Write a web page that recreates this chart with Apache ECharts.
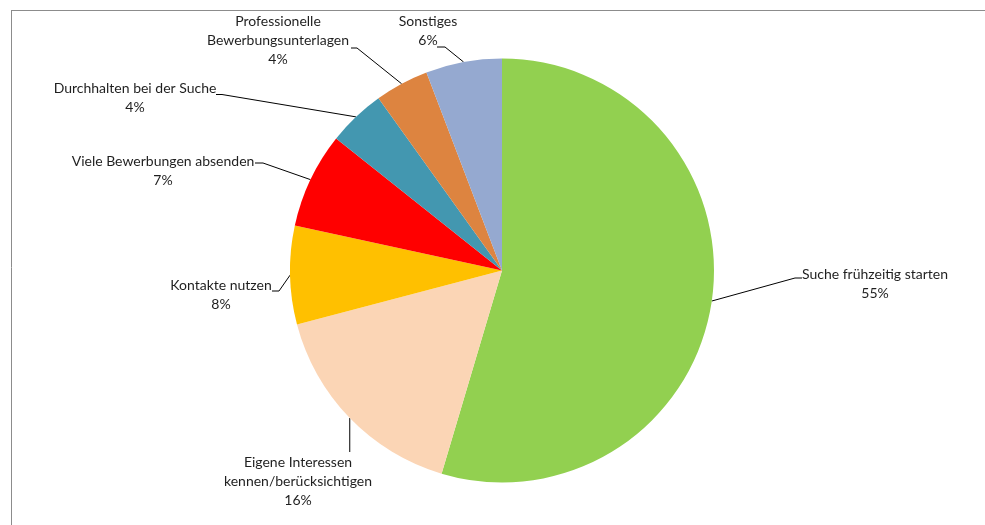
<!DOCTYPE html>
<html>
<head>
<meta charset="utf-8">
<script src="https://cdn.jsdelivr.net/npm/echarts@6/dist/echarts.min.js"></script>
<style>
html, body { margin: 0; padding: 0; background: #fff; }
#main { width: 985px; height: 525px; }
</style>
</head>
<body>
<div id="main"></div>
<script>
// Kategorien und Anteile (im Uhrzeigersinn ab 12 Uhr)
var categories = [
    'Suche frühzeitig starten',
    'Eigene Interessen\nkennen/berücksichtigen',
    'Kontakte nutzen',
    'Viele Bewerbungen absenden',
    'Durchhalten bei der Suche',
    'Professionelle\nBewerbungsunterlagen',
    'Sonstiges'
];
var values = [54.6, 16.3, 7.5, 7.3, 4.4, 4.1, 5.8];
var colors = ['#92D050', '#FBD5B5', '#FFC000', '#FF0000', '#4397B0', '#DD8440', '#95A9D0'];

// Position der Beschriftungen (Mitte des Textblocks) und Knick/Ende der Führungslinie
var labelPos = [[875, 284], [298, 481], [221, 295], [163, 170.5], [135, 98], [278, 40], [428, 31]];
var guideBend = [[795, 278], [350, 452], [279, 291], [263, 163], [222, 94.5], [357, 48], [445, 47]];
var guideEnd = [[802, 278], [350, 452], [272, 291], [255, 163], [216, 94.5], [351, 48], [437, 47]];

var pieData = categories.map(function (name, i) {
    return { name: name, value: values[i], itemStyle: { color: colors[i] } };
});

var myChart = echarts.init(document.getElementById('main'), null, { renderer: 'canvas' });
myChart.setOption({
    animation: false,
    graphic: [
        { type: 'line', shape: { x1: 11, y1: 10.5, x2: 985, y2: 10.5 }, style: { stroke: '#8c8c8c', lineWidth: 1 } },
        { type: 'line', shape: { x1: 11.5, y1: 10, x2: 11.5, y2: 525 }, style: { stroke: '#8c8c8c', lineWidth: 1 } }
    ],
    series: [
        {
            type: 'pie',
            center: [502, 270.5],
            radius: 212,
            startAngle: 90,
            clockwise: true,
            percentPrecision: 0,
            avoidLabelOverlap: false,
            itemStyle: { borderWidth: 0 },
            emphasis: { disabled: true },
            label: {
                show: true,
                position: 'outside',
                formatter: '{b}\n{d}%',
                fontFamily: 'Lato',
                fontSize: 14,
                lineHeight: 19,
                color: '#1f1f1f',
                align: 'center'
            },
            labelLine: {
                show: true,
                length: 20,
                length2: 10,
                lineStyle: { color: '#000', width: 1 }
            },
            labelLayout: function (params) {
                var i = params.dataIndex;
                var anchor = params.labelLinePoints ? params.labelLinePoints[0] : null;
                var res = {
                    x: labelPos[i][0],
                    y: labelPos[i][1],
                    align: 'center',
                    verticalAlign: 'middle'
                };
                if (anchor) {
                    var bend = guideBend[i];
                    var end = guideEnd[i];
                    if (i === 1) {
                        bend = [anchor[0], bend[1]];
                        end = [anchor[0], end[1]];
                    }
                    res.labelLinePoints = [anchor, bend, end];
                }
                return res;
            },
            data: pieData
        }
    ]
});
</script>
</body>
</html>
